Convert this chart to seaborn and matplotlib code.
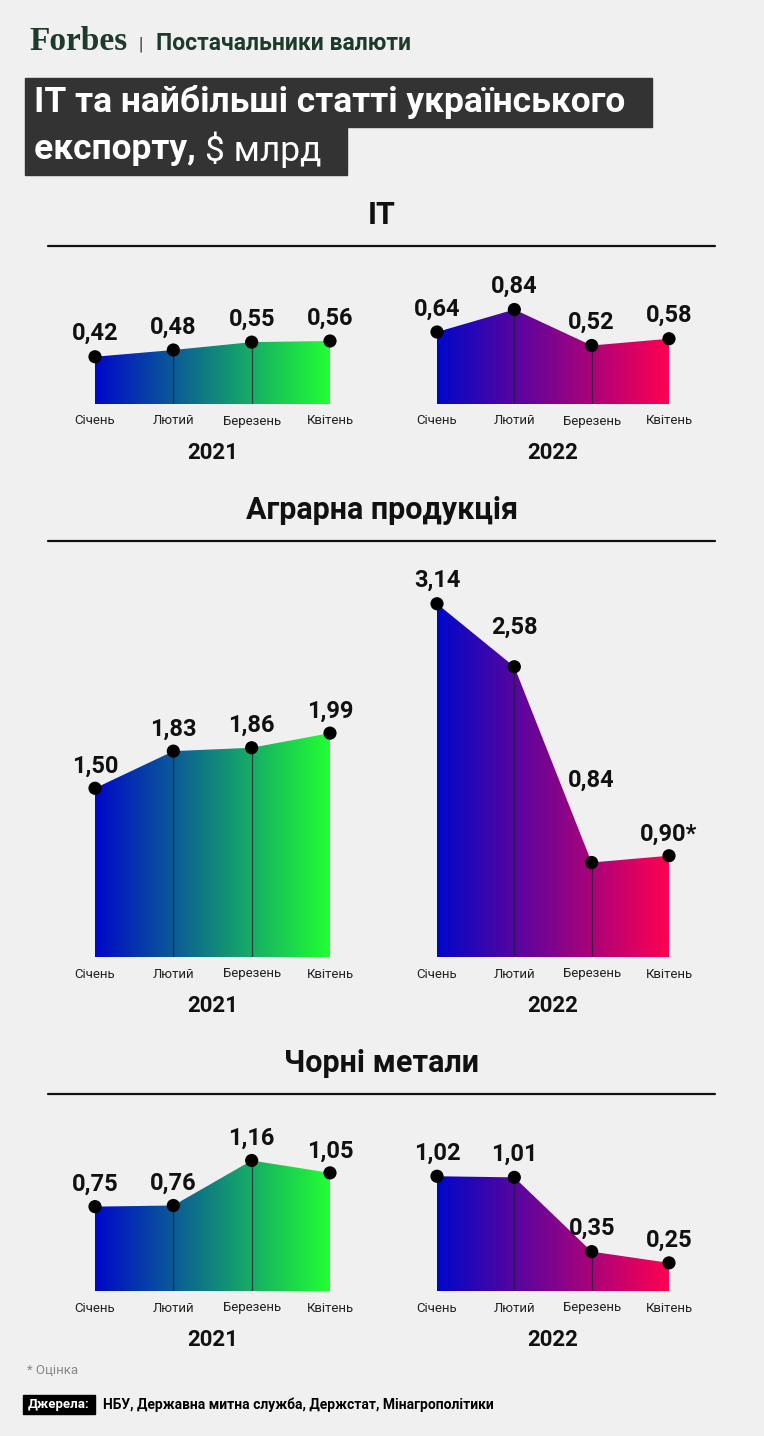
import numpy as np
import matplotlib
matplotlib.use('Agg')
import matplotlib.pyplot as plt
import seaborn as sns
from matplotlib.colors import LinearSegmentedColormap
from matplotlib.patches import Rectangle

# ---------------- data ----------------
months = ['Січень', 'Лютий', 'Березень', 'Квітень']
years = ['2021', '2022']

it_2021 = [0.42, 0.48, 0.55, 0.56]
it_2022 = [0.64, 0.84, 0.52, 0.58]
agro_2021 = [1.50, 1.83, 1.86, 1.99]
agro_2022 = [3.14, 2.58, 0.84, 0.90]
metal_2021 = [0.75, 0.76, 1.16, 1.05]
metal_2022 = [1.02, 1.01, 0.35, 0.25]

# April 2022 agro value is an estimate
agro_2022_notes = ['', '', '', '*']

section_titles = ['IT', 'Аграрна продукція', 'Чорні метали']

# ---------------- style ----------------
sns.set_theme(style='white')
plt.rcParams['font.family'] = ['Roboto', 'DejaVu Sans']

W, H = 764, 1436
BG = '#f0f0f0'
PX = 112.5  # pixels per $1 bn, shared by all panels

cmap_2021 = LinearSegmentedColormap.from_list('g21', ['#0008c8', '#22ff33'])
cmap_2022 = LinearSegmentedColormap.from_list('g22', ['#0008c8', '#ff0052'])

fig = plt.figure(figsize=(W / 100, H / 100), dpi=100, facecolor=BG)


def fy(py):
    return 1 - py / H


def fx(px):
    return px / W


# ---------------- header ----------------
fig.text(fx(29), fy(42), 'Forbes', family='Liberation Serif', weight='bold',
         fontsize=24, color='#1d3a2b', va='center', ha='left')
fig.text(fx(139), fy(44), '|', fontsize=13, color='#1d3a2b', va='center')
fig.text(fx(156), fy(44), 'Постачальники валюти', fontsize=16.5,
         color='#1d3a2b', va='center', weight='semibold')

fig.patches.append(Rectangle((fx(25), fy(127)), fx(652) - fx(25), fy(78) - fy(127),
                             transform=fig.transFigure, color='#333333', zorder=0))
fig.patches.append(Rectangle((fx(25), fy(175)), fx(347) - fx(25), fy(127) - fy(175),
                             transform=fig.transFigure, color='#333333', zorder=0))
fig.text(fx(34), fy(102), 'IT та найбільші статті українського', fontsize=25.5,
         weight='bold', color='white', va='center')
t2 = fig.text(fx(34), fy(150), 'експорту, ', fontsize=25.5, weight='bold',
              color='white', va='center')
fig.canvas.draw()
bb = t2.get_window_extent()
fig.text(bb.x1 / W, fy(150), '$ млрд', fontsize=25.5, weight='normal',
         color='white', va='center')

# ---------------- panels ----------------
sections = [
    dict(title=section_titles[0], left=it_2021, right=it_2022,
         notes=['', '', '', ''], title_y=215, rule_y=246, base=404, ymax=0.9,
         offs_l=[23, 23, 23, 23], offs_r=[23, 23, 23, 23]),
    dict(title=section_titles[1], left=agro_2021, right=agro_2022,
         notes=agro_2022_notes, title_y=510, rule_y=541, base=957, ymax=3.25,
         offs_l=[22, 22, 22, 22], offs_r=[23, 39, 82, 21]),
    dict(title=section_titles[2], left=metal_2021, right=metal_2022,
         notes=['', '', '', ''], title_y=1063, rule_y=1094, base=1291, ymax=1.25,
         offs_l=[22, 22, 22, 22], offs_r=[23, 23, 23, 23]),
]

panel_x = [(95, 330), (437, 669)]
x = np.arange(len(months))
grad = np.linspace(0, 1, 256).reshape(1, -1)

for sec in sections:
    fig.text(0.5, fy(sec['title_y']), sec['title'], fontsize=22, weight='semibold',
             ha='center', va='center', color='#111111')
    fig.add_artist(plt.Line2D([fx(48), fx(715)], [fy(sec['rule_y'])] * 2,
                              transform=fig.transFigure, color='#111111', lw=1.6))

    for k, (vals, cmap, offs) in enumerate([
            (sec['left'], cmap_2021, sec['offs_l']),
            (sec['right'], cmap_2022, sec['offs_r'])]):
        x0, x1 = panel_x[k]
        ax = fig.add_axes([fx(x0), fy(sec['base']), fx(x1) - fx(x0),
                           sec['ymax'] * PX / H])
        ax.set_facecolor('none')

        im = ax.imshow(grad, cmap=cmap, extent=(0, 3, 0, sec['ymax']),
                       aspect='auto', zorder=1, interpolation='bilinear')
        poly = ax.fill_between(x, 0, vals, color='none', lw=0)
        im.set_clip_path(poly.get_paths()[0], transform=ax.transData)

        ax.vlines(x[1:3], 0, vals[1:3], color='#1c1c3a', lw=0.9, alpha=0.75, zorder=2)

        sns.scatterplot(x=x, y=vals, ax=ax, color='black', s=90, zorder=5,
                        edgecolor='none', clip_on=False, legend=False)

        notes = sec['notes'] if k == 1 else ['', '', '', '']
        for i, v in enumerate(vals):
            label = f'{v:.2f}'.replace('.', ',')
            ax.annotate(label + notes[i], (i, v), xytext=(0, offs[i] * 0.72),
                        textcoords='offset points', ha='center', va='center',
                        fontsize=17, weight='semibold', color='#111111',
                        annotation_clip=False)
            ax.annotate(months[i], (i, 0), xytext=(0, -17 * 0.72),
                        textcoords='offset points', ha='center', va='center',
                        fontsize=9.5, color='#222222', annotation_clip=False)

        fig.text(fx((x0 + x1) / 2), fy(sec['base'] + 49), years[k], fontsize=16,
                 weight='bold', ha='center', va='center', color='#111111')

        ax.set_xlim(0, 3)
        ax.set_ylim(0, sec['ymax'])
        ax.axis('off')

# ---------------- footer ----------------
fig.text(fx(27), fy(1371), '* Оцінка', fontsize=9.5, color='#888888', va='center')
fig.patches.append(Rectangle((fx(23), fy(1414)), fx(95) - fx(23), fy(1395) - fy(1414),
                             transform=fig.transFigure, color='black', zorder=0))
fig.text(fx(59), fy(1404.5), 'Джерела:', fontsize=9.5, weight='bold', color='white',
         ha='center', va='center')
fig.text(fx(103), fy(1404.5), 'НБУ, Державна митна служба, Держстат, Мінагрополітики',
         fontsize=10, weight='bold', color='black', va='center')

fig.savefig('out.png', dpi=100, facecolor=BG)
